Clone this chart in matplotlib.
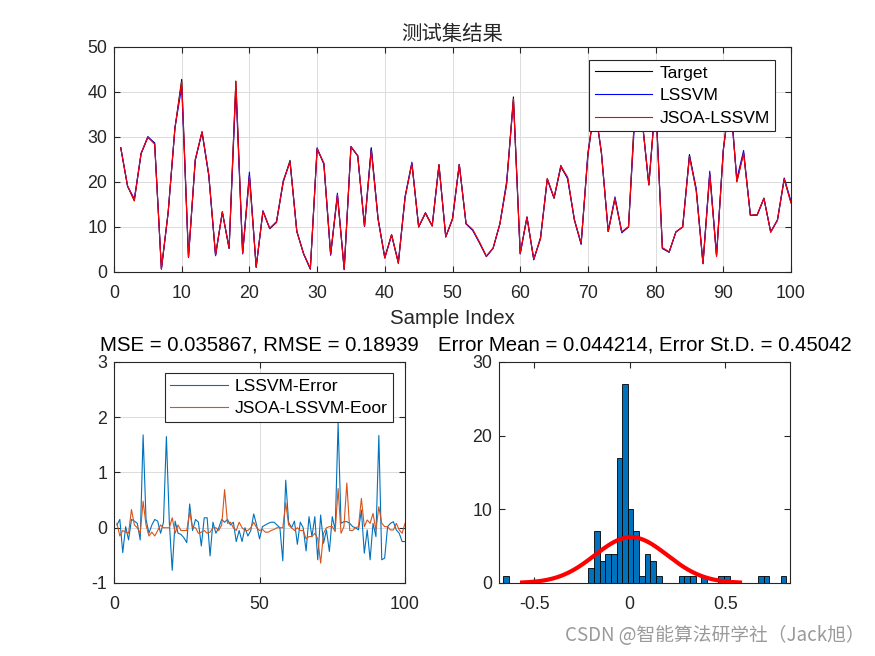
import numpy as np
import matplotlib
matplotlib.use("Agg")
import matplotlib.pyplot as plt

plt.rcParams['font.family'] = ['Liberation Sans', 'Noto Sans CJK SC', 'DejaVu Sans']
plt.rcParams['axes.unicode_minus'] = False

# ---- data ----
sample_idx = np.arange(1, 101)

target = [27.6, 19.1, 15.8, 26.3, 29.9, 28.7, 0.7, 13.3, 31.9, 42.8,
          3.3, 24.8, 31.1, 21.5, 3.7, 13.3, 5.3, 42.4, 4.1, 21.4,
          1.1, 13.5, 9.6, 11.0, 20.0, 24.8, 9.0, 4.1, 0.7, 27.3,
          24.1, 3.9, 17.0, 0.6, 27.8, 25.8, 10.2, 27.6, 11.9, 3.2,
          8.3, 1.9, 16.7, 24.1, 10.0, 13.0, 10.2, 23.9, 7.8, 11.7,
          23.9, 10.7, 9.3, 6.5, 3.5, 5.3, 10.7, 19.6, 38.9, 4.1,
          12.2, 2.8, 7.4, 20.7, 16.4, 23.3, 20.9, 11.5, 6.3, 25.9,
          37.0, 26.3, 9.0, 16.3, 8.9, 10.0, 38.0, 34.0, 19.4, 38.5,
          5.3, 4.4, 8.9, 10.0, 26.1, 18.1, 1.9, 21.8, 3.7, 27.0,
          40.0, 20.1, 26.4, 12.6, 12.7, 16.4, 8.9, 11.5, 20.6, 15.4]

lssvm_pred = [27.6, 19.0, 16.3, 26.3, 30.1, 28.6, 0.6, 13.2, 32.1, 41.1,
              3.2, 24.9, 31.1, 21.4, 3.6, 13.4, 5.2, 40.8, 4.0, 22.2,
              1.0, 13.6, 9.7, 11.2, 20.3, 24.4, 9.1, 4.0, 0.6, 27.6,
              23.9, 3.7, 17.5, 0.5, 27.9, 25.8, 10.1, 27.5, 11.8, 3.1,
              8.2, 2.2, 16.8, 24.4, 10.0, 13.2, 10.3, 23.7, 7.8, 11.9,
              23.9, 10.7, 9.2, 6.4, 3.4, 5.3, 10.7, 20.2, 38.0, 4.0,
              12.2, 2.7, 7.7, 20.6, 16.4, 23.7, 20.7, 11.7, 6.1, 26.5,
              36.8, 26.6, 9.0, 16.7, 8.7, 10.0, 36.1, 33.9, 19.3, 38.4,
              5.2, 4.4, 8.9, 10.0, 25.8, 18.6, 1.9, 22.4, 3.6, 27.2,
              38.3, 20.7, 27.0, 12.6, 12.6, 16.3, 8.9, 11.6, 20.9, 15.7]

jsoa_pred = [27.5, 19.2, 15.9, 26.4, 30.0, 28.4, 0.7, 13.3, 32.0, 42.3,
             3.3, 25.0, 31.2, 21.7, 3.8, 13.3, 5.3, 42.4, 4.1, 21.2,
             1.2, 13.5, 9.7, 11.1, 20.1, 24.5, 9.0, 4.1, 0.8, 27.4,
             24.2, 4.0, 17.1, 0.6, 27.8, 25.9, 10.2, 26.9, 11.8, 3.1,
             8.3, 2.0, 16.6, 24.1, 10.1, 13.1, 10.2, 23.8, 7.8, 11.8,
             23.9, 10.8, 9.4, 6.6, 3.5, 5.3, 10.7, 19.6, 38.5, 4.1,
             12.2, 2.9, 7.4, 20.8, 16.5, 23.5, 21.1, 11.7, 6.4, 26.1,
             37.6, 26.4, 9.0, 16.3, 8.9, 10.1, 37.3, 34.1, 19.4, 37.7,
             5.4, 4.5, 8.9, 10.0, 25.6, 18.1, 1.8, 21.7, 3.4, 27.0,
             39.6, 20.0, 26.4, 12.6, 12.7, 16.4, 8.8, 11.5, 20.7, 15.3]

lssvm_err = [0.05, 0.15, -0.45, 0.02, -0.22, 0.15, 0.12, 0.08, -0.22, 1.68,
             0.15, -0.10, 0.05, 0.15, 0.12, -0.10, 0.10, 1.65, 0.10, -0.77,
             0.12, -0.10, -0.12, -0.18, -0.27, 0.43, -0.05, 0.15, 0.10, -0.33,
             0.18, 0.18, -0.51, 0.10, -0.10, 0.00, 0.15, 0.10, 0.15, 0.05,
             0.10, -0.25, -0.05, -0.25, 0.00, -0.15, -0.05, 0.25, 0.05, -0.20,
             0.02, 0.05, 0.08, 0.10, 0.10, 0.05, 0.00, -0.60, 0.86, 0.10,
             0.00, 0.12, -0.30, 0.10, 0.00, -0.42, 0.20, -0.16, 0.20, -0.58,
             0.23, -0.28, -0.04, -0.43, 0.20, -0.04, 1.90, 0.08, 0.11, 0.11,
             0.08, 0.02, 0.00, -0.04, 0.32, -0.46, -0.04, -0.58, 0.08, -0.16,
             1.67, -0.58, -0.55, 0.02, 0.08, 0.11, -0.04, -0.10, -0.25, -0.25]

jsoa_err = [0.08, -0.15, -0.05, -0.08, -0.10, 0.33, 0.05, 0.00, -0.10, 0.48,
            0.05, -0.15, -0.08, -0.15, -0.05, 0.05, 0.00, 0.00, 0.00, 0.18,
            -0.10, 0.05, -0.05, -0.05, -0.05, 0.28, 0.00, 0.00, -0.10, -0.08,
            -0.05, -0.10, -0.08, 0.00, 0.00, -0.05, 0.05, 0.69, 0.08, 0.10,
            0.00, -0.05, 0.10, 0.00, -0.05, -0.05, 0.00, 0.10, 0.00, -0.05,
            -0.03, -0.08, -0.08, -0.05, -0.03, 0.00, 0.00, 0.00, 0.45, 0.05,
            0.00, -0.05, 0.00, -0.05, -0.05, -0.20, -0.16, -0.16, -0.10, -0.20,
            -0.64, -0.10, 0.00, 0.02, 0.02, -0.07, 0.71, -0.10, 0.02, 0.81,
            -0.05, -0.05, 0.00, 0.02, 0.53, 0.02, 0.14, 0.08, 0.26, -0.04,
            0.38, 0.08, 0.02, 0.02, -0.04, -0.04, 0.08, -0.04, -0.10, 0.08]

# histogram of the error (50 bins)
hist_start = -0.661
hist_width = 0.0296
hist_counts = [1, 0, 0, 0, 0, 0, 0, 0, 0, 0,
               0, 0, 0, 0, 0, 2, 7, 3, 4, 4,
               17, 27, 10, 7, 1, 4, 3, 1, 0, 0,
               0, 1, 1, 1, 0, 1, 0, 0, 1, 1,
               0, 0, 0, 0, 0, 1, 1, 0, 0, 1]
fit_mu = 0.007
fit_sigma = 0.19

mse_title = "MSE = 0.035867, RMSE = 0.18939"
err_title = "Error Mean = 0.044214, Error St.D. = 0.45042"

# ---- style helpers ----
AX_COLOR = '#262626'
BLUE = '#0072BD'
ORANGE = '#D95319'
TICK_FS = 12.8
LEG_FS = 12.6
TITLE_FS = 14.7


def matlab_axes(ax):
    ax.grid(True, color='#dcdcdc', linewidth=0.7)
    ax.set_axisbelow(True)
    for s in ax.spines.values():
        s.set_color(AX_COLOR)
        s.set_linewidth(0.8)
    ax.tick_params(direction='in', top=True, right=True, length=4,
                   width=0.8, colors=AX_COLOR, labelsize=TICK_FS)
    ax.tick_params(axis='x', pad=9.5)
    ax.tick_params(axis='y', pad=5)
    for lab in ax.get_xticklabels() + ax.get_yticklabels():
        lab.set_color(AX_COLOR)


def matlab_legend(ax, anchor):
    leg = ax.legend(loc='upper right', bbox_to_anchor=anchor,
                    fontsize=LEG_FS, handlelength=3.3, handletextpad=0.4,
                    fancybox=False, framealpha=1, edgecolor=AX_COLOR,
                    borderpad=0.3, labelspacing=0.42, borderaxespad=0)
    leg.get_frame().set_linewidth(0.8)
    return leg


fig = plt.figure(figsize=(8.75, 6.56), dpi=100)

# ---- top: test set results ----
ax1 = fig.add_axes([0.1303, 0.5854, 0.7737, 0.3430])
ax1.plot(sample_idx, target, color='black', lw=0.8, label='Target')
ax1.plot(sample_idx, lssvm_pred, color='blue', lw=0.8, label='LSSVM')
ax1.plot(sample_idx, jsoa_pred, color='red', lw=0.8, label='JSOA-LSSVM')
ax1.set_xlim(0, 100)
ax1.set_ylim(0, 50)
ax1.set_xticks(np.arange(0, 101, 10))
ax1.set_yticks(np.arange(0, 51, 10))
matlab_axes(ax1)
ax1.set_title('测试集结果', fontsize=TITLE_FS, color=AX_COLOR, pad=5,
              family=['Noto Sans CJK SC'], fontweight='light')
ax1.set_xlabel('Sample Index', fontsize=TITLE_FS, color=AX_COLOR, labelpad=5)
matlab_legend(ax1, (0.976, 0.942))

# ---- bottom left: errors ----
ax2 = fig.add_axes([0.1303, 0.1113, 0.3326, 0.3369])
ax2.plot(sample_idx, lssvm_err, color=BLUE, lw=0.8, label='LSSVM-Error')
ax2.plot(sample_idx, jsoa_err, color=ORANGE, lw=0.8, label='JSOA-LSSVM-Eoor')
ax2.set_xlim(0, 100)
ax2.set_ylim(-1, 3)
ax2.set_xticks([0, 50, 100])
ax2.set_yticks([-1, 0, 1, 2, 3])
matlab_axes(ax2)
ax2.set_title(mse_title, fontsize=TITLE_FS, color='black', pad=8)
matlab_legend(ax2, (0.958, 0.949))

# ---- bottom right: error histogram with normal fit ----
ax3 = fig.add_axes([0.5703, 0.1113, 0.3326, 0.3369])
edges = hist_start + hist_width * np.arange(len(hist_counts))
ax3.bar(edges, hist_counts, width=hist_width, align='edge',
        color=BLUE, edgecolor='black', linewidth=0.6, zorder=2)
xs = np.linspace(fit_mu - 3 * fit_sigma, fit_mu + 3 * fit_sigma, 200)
pdf = np.exp(-0.5 * ((xs - fit_mu) / fit_sigma) ** 2) / (fit_sigma * np.sqrt(2 * np.pi))
ax3.plot(xs, sum(hist_counts) * hist_width * pdf, color='red', lw=3, zorder=3)
ax3.set_xlim(-0.684, 0.839)
ax3.set_ylim(0, 30)
ax3.set_xticks([-0.5, 0, 0.5])
ax3.set_xticklabels(['-0.5', '0', '0.5'])
ax3.set_yticks([0, 10, 20, 30])
matlab_axes(ax3)
ax3.grid(False)
ax3.set_title(err_title, fontsize=TITLE_FS, color='black', pad=8)

fig.text(0.988, 0.016, 'CSDN @智能算法研学社（Jack旭）', ha='right', va='bottom',
         fontsize=13.5, color='#9a9a9a', family=['Noto Sans CJK SC'])

fig.savefig('out.png', dpi=100)
